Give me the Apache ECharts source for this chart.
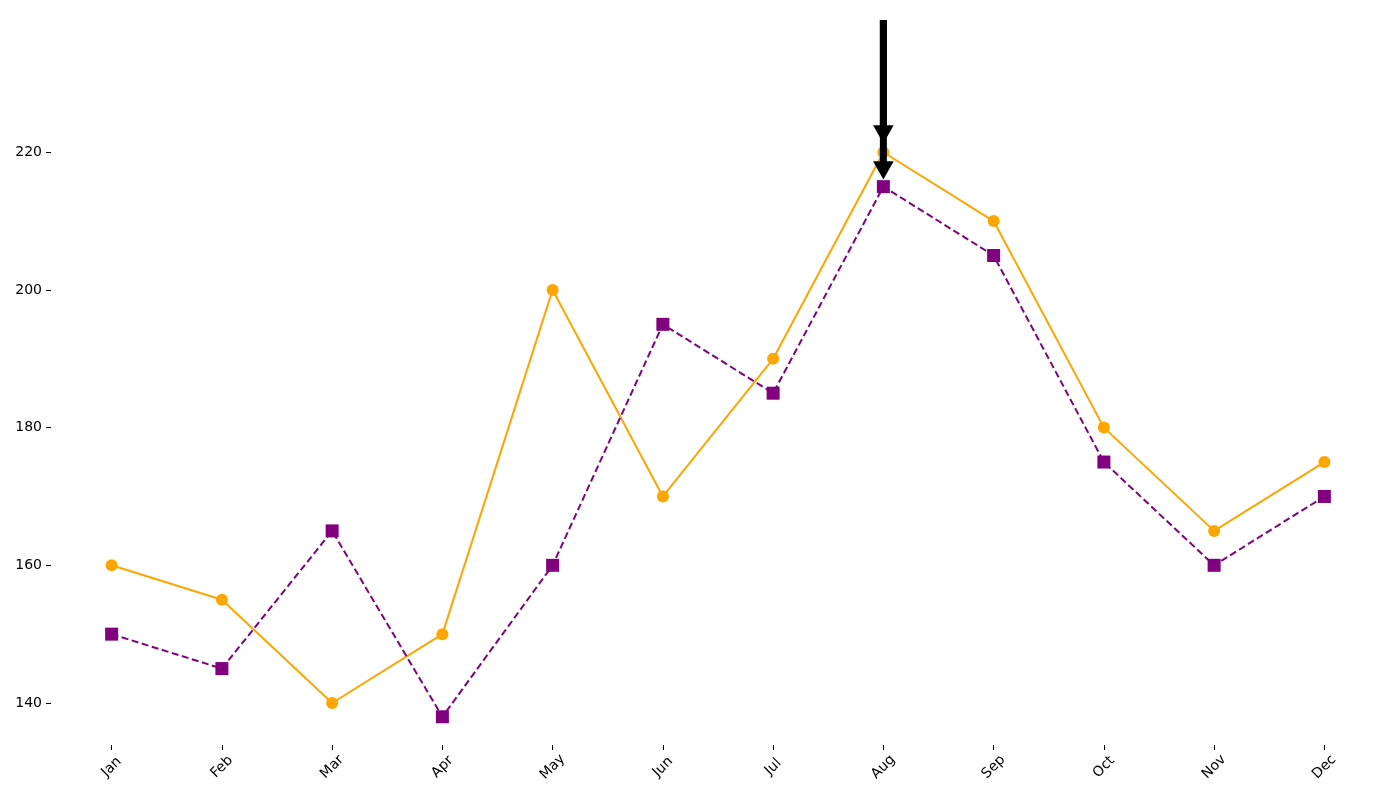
<!DOCTYPE html>
<html>
<head>
<meta charset="utf-8">
<script src="https://cdn.jsdelivr.net/npm/echarts@6/dist/echarts.min.js"></script>
<style>
  html, body { margin: 0; padding: 0; background: #fff; }
  #chart { width: 1400px; height: 800px; }
</style>
</head>
<body>
<div id="chart"></div>
<script>
var months = ['Jan', 'Feb', 'Mar', 'Apr', 'May', 'Jun', 'Jul', 'Aug', 'Sep', 'Oct', 'Nov', 'Dec'];
var seriesA = [160, 155, 140, 150, 200, 170, 190, 220, 210, 180, 165, 175];
var seriesB = [150, 145, 165, 138, 160, 195, 185, 215, 205, 175, 160, 170];
var yTicks = [140, 160, 180, 200, 220];
var xTicks = months.map(function (m, i) { return i; });

// annotation: two arrows from the same text point down to Aug
var arrowMonth = 7;
var arrowStart = 239.2;
var arrowTips = [221.5, 216.25];

var font = 'DejaVu Sans';

var chart = echarts.init(document.getElementById('chart'));

var option = {
    backgroundColor: '#fff',
    animation: false,
    grid: {
        left: 51,
        right: 15,
        top: 124,
        bottom: 55
    },
    xAxis: {
        type: 'value',
        min: -0.55,
        max: 11.55,
        axisLine: {show: false, onZero: false},
        splitLine: {show: false},
        axisTick: {
            show: true,
            length: 5,
            lineStyle: {color: '#000', width: 1},
            customValues: xTicks
        },
        axisLabel: {
            customValues: xTicks,
            rotate: 45,
            align: 'center',
            verticalAlign: 'middle',
            margin: 22,
            color: '#000',
            fontFamily: font,
            fontSize: 14,
            formatter: function (v) {
                return months[Math.round(v)];
            }
        }
    },
    yAxis: {
        type: 'value',
        min: 133.9,
        max: 224.1,
        axisLine: {show: false, onZero: false},
        splitLine: {show: false},
        axisTick: {
            show: true,
            length: 5,
            lineStyle: {color: '#000', width: 1},
            customValues: yTicks
        },
        axisLabel: {
            customValues: yTicks,
            margin: 9,
            color: '#000',
            fontFamily: font,
            fontSize: 14
        }
    },
    series: [
        {
            name: 'A',
            type: 'line',
            data: seriesA.map(function (v, i) { return [i, v]; }),
            symbol: 'circle',
            symbolSize: 12,
            lineStyle: {color: '#FFA500', width: 2},
            itemStyle: {color: '#FFA500'},
            clip: false
        },
        {
            name: 'B',
            type: 'line',
            data: seriesB.map(function (v, i) { return [i, v]; }),
            symbol: 'rect',
            symbolSize: 13,
            lineStyle: {color: '#800080', width: 2, type: [7, 3.5]},
            itemStyle: {color: '#800080'},
            clip: false
        }
    ]
};
chart.setOption(option);

// arrows in pixel space from the axis scales
var headW = 18, headL = 16, shaftW = 7;
var elements = [];
arrowTips.forEach(function (tip) {
    var p0 = chart.convertToPixel({gridIndex: 0}, [arrowMonth, arrowStart]);
    var p1 = chart.convertToPixel({gridIndex: 0}, [arrowMonth, tip]);
    elements.push({
        type: 'line',
        z: 100,
        shape: {x1: p0[0], y1: p0[1], x2: p1[0], y2: p1[1] - headL + 2},
        style: {stroke: '#000', lineWidth: shaftW}
    });
    elements.push({
        type: 'polygon',
        z: 100,
        shape: {points: [[p1[0] - headW / 2, p1[1] - headL], [p1[0] + headW / 2, p1[1] - headL], [p1[0], p1[1]]]},
        style: {fill: '#000', stroke: '#000', lineWidth: 1.5, lineJoin: 'miter'}
    });
});
chart.setOption({graphic: elements});
</script>
</body>
</html>
